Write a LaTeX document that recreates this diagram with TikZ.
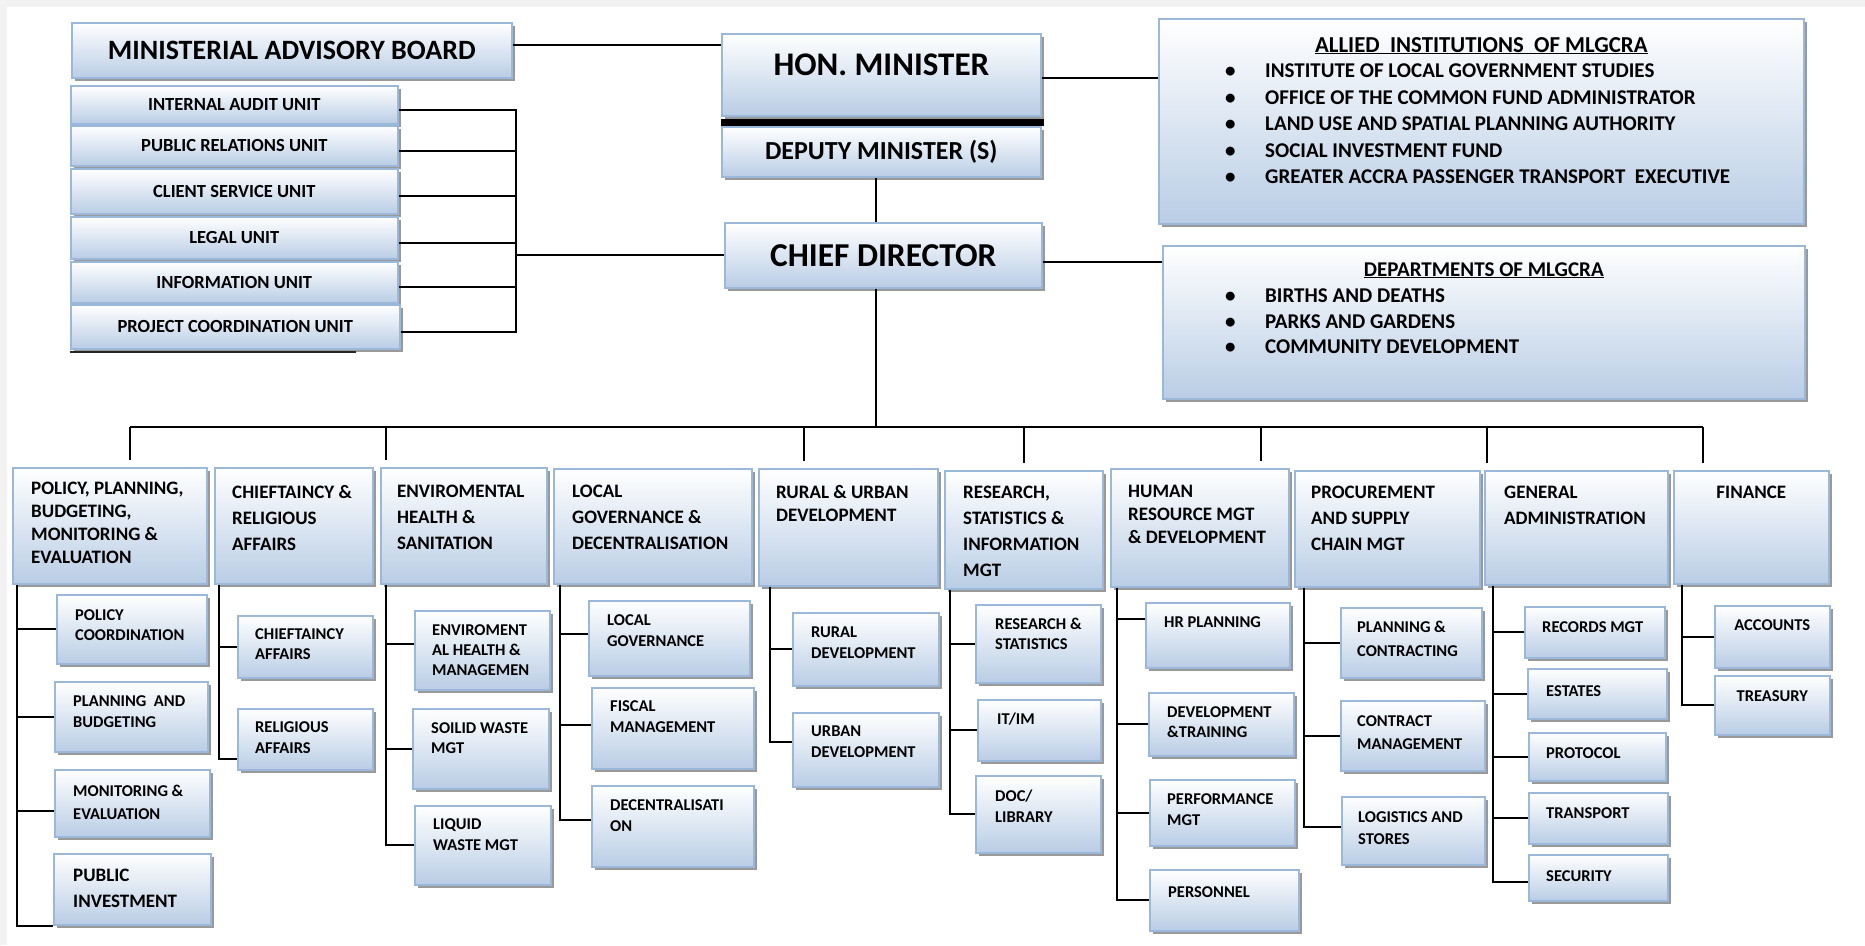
\documentclass[tikz,border=0pt]{standalone}
\usepackage{fontspec}
\setmainfont{Carlito}
\usetikzlibrary{shadows}
\definecolor{boxedge}{RGB}{155,183,217}
\definecolor{boxfill}{RGB}{185,205,229}
\definecolor{pagegray}{RGB}{242,242,242}
\newcommand{\itembul}{\makebox[40pt][l]{\textbullet}}
\tikzset{
  orgbox/.style={draw=boxedge, line width=1.6pt, top color=white, bottom color=boxfill,
    drop shadow={shadow xshift=3pt, shadow yshift=-3pt, fill=black!40, opacity=1},
    anchor=north west, inner sep=0pt, font=\bfseries\fontsize{18.5}{22}\selectfont},
  headtxt/.style={anchor=north west, inner sep=0pt, align=left, font=\bfseries\fontsize{19}{#1}\selectfont},
  headtxt/.default=23,
  subtxt/.style={anchor=north west, inner sep=0pt, align=left, font=\bfseries\fontsize{16.5}{#1}\selectfont},
  subtxt/.default=21,
  link/.style={line width=1.8pt},
}
\begin{document}
\begin{tikzpicture}[x=1pt, y=-1pt]
  \useasboundingbox (0,0) rectangle (1865,945);
  \fill[pagegray] (0,0) rectangle (1865,945);
  \fill[white] (7,7) rectangle (1865,945);

  % minister and advisory units
  \node[orgbox, minimum width=440pt, minimum height=55pt, font=\bfseries\fontsize{28}{32}\selectfont] (mab) at (71,22) {MINISTERIAL ADVISORY BOARD};
  \node[orgbox, minimum width=327pt, minimum height=38pt] (iau) at (70,85) {INTERNAL AUDIT UNIT};
  \node[orgbox, minimum width=327pt, minimum height=40pt] (pru) at (70,125) {PUBLIC RELATIONS UNIT};
  \node[orgbox, minimum width=327pt, minimum height=45pt] (csu) at (70,168) {CLIENT SERVICE UNIT};
  \node[orgbox, minimum width=327pt, minimum height=42pt] (lgu) at (70,216) {LEGAL UNIT};
  \node[orgbox, minimum width=327pt, minimum height=41pt] (inf) at (70,261) {INFORMATION UNIT};
  \node[orgbox, minimum width=329pt, minimum height=44pt] (pcu) at (70,304) {PROJECT COORDINATION UNIT};
  \draw[line width=2pt, black!85] ([yshift=-2pt]pcu.south west) -- ++(286,0);

  \node[orgbox, minimum width=319pt, minimum height=82pt, text depth=20pt, font=\bfseries\fontsize{33}{38}\selectfont] (hom) at (721,33) {HON. MINISTER};
  \fill ([yshift=-2pt]hom.south west) rectangle (1044,126);
  \node[orgbox, minimum width=319pt, minimum height=50pt, font=\bfseries\fontsize{26}{30}\selectfont] (dpm) at (721,126) {DEPUTY MINISTER (S)};
  \node[orgbox, minimum width=317pt, minimum height=65pt, font=\bfseries\fontsize{33.4}{38}\selectfont] (chd) at (724,222) {CHIEF DIRECTOR};

  % allied institutions and departments
  \node[orgbox, minimum width=645pt, minimum height=205pt] (ali) at (1158,18) {};
  \node[anchor=base, inner sep=0pt, font=\bfseries\fontsize{22.8}{26}\selectfont] (alit) at ([yshift=-34pt]ali.north) {\underline{ALLIED\ \ INSTITUTIONS\ \ OF MLGCRA}};
  \node[anchor=north west, inner sep=0pt, align=left, font=\bfseries\fontsize{21}{26.5}\selectfont] (alil) at ([shift={(67,46)}]ali.north west)
    {\itembul INSTITUTE OF LOCAL GOVERNMENT STUDIES\\
     \itembul OFFICE OF THE COMMON FUND ADMINISTRATOR\\
     \itembul LAND USE AND SPATIAL PLANNING AUTHORITY\\
     \itembul SOCIAL INVESTMENT FUND\\
     \itembul GREATER ACCRA PASSENGER TRANSPORT\ \ EXECUTIVE};
  \node[orgbox, minimum width=642pt, minimum height=153pt] (dpt) at (1162,245) {};
  \node[anchor=base, inner sep=0pt, font=\bfseries\fontsize{21}{26}\selectfont] (dptt) at ([yshift=-31pt]dpt.north) {\underline{DEPARTMENTS OF MLGCRA}};
  \node[anchor=north west, inner sep=0pt, align=left, font=\bfseries\fontsize{21}{25.5}\selectfont] (dptl) at ([shift={(63,44)}]dpt.north west)
    {\itembul BIRTHS AND DEATHS\\
     \itembul PARKS AND GARDENS\\
     \itembul COMMUNITY DEVELOPMENT};

  % top links
  \draw[link] ([yshift=5pt]mab.east) coordinate (mabe) -- (mabe -| hom.west);
  \coordinate (brk) at ([xshift=-208pt]chd.west);
  \foreach \u in {iau,pru,csu,lgu,inf,pcu}
    \draw[link] ([yshift=-5pt]\u.east) -| (brk);
  \draw[link] (brk) -- (chd.west);
  \draw[link] ([yshift=-3pt]hom.east) coordinate (home) -- (home -| ali.west);
  \draw[link] ([yshift=-7pt]chd.east) coordinate (chde) -- (chde -| dpt.west);
  \draw[link] ([xshift=-5pt]dpm.south) coordinate (dpms) -- (dpms |- chd.north);

  % directorates
  \node[orgbox, minimum width=194pt, minimum height=116pt] (pol) at (12,467) {};
  \node[headtxt] (polt) at ([shift={(19,15)}]pol.north west) {POLICY, PLANNING,\\BUDGETING,\\MONITORING \&\\EVALUATION};
  \node[orgbox, minimum width=158pt, minimum height=116pt] (chf) at (214,467) {};
  \node[headtxt=26] (chft) at ([shift={(18,18)}]chf.north west) {CHIEFTAINCY \&\\RELIGIOUS\\AFFAIRS};
  \node[orgbox, minimum width=166pt, minimum height=116pt] (env) at (380,467) {};
  \node[headtxt=26] (envt) at ([shift={(17,18)}]env.north west) {ENVIROMENTAL\\HEALTH \&\\SANITATION};
  \node[orgbox, minimum width=198pt, minimum height=115pt] (loc) at (553,468) {};
  \node[headtxt=26] (loct) at ([shift={(19,17)}]loc.north west) {LOCAL\\GOVERNANCE \&\\DECENTRALISATION};
  \node[orgbox, minimum width=179pt, minimum height=117pt] (rur) at (758,468) {};
  \node[headtxt] (rurt) at ([shift={(18,17)}]rur.north west) {RURAL \& URBAN\\DEVELOPMENT};
  \node[orgbox, minimum width=158pt, minimum height=118pt] (res) at (944,470) {};
  \node[headtxt=26] (rest) at ([shift={(19,16)}]res.north west) {RESEARCH,\\STATISTICS \&\\INFORMATION\\MGT};
  \node[orgbox, minimum width=178pt, minimum height=118pt] (hrm) at (1110,468) {};
  \node[headtxt] (hrmt) at ([shift={(18,17)}]hrm.north west) {HUMAN\\RESOURCE MGT\\\& DEVELOPMENT};
  \node[orgbox, minimum width=185pt, minimum height=116pt] (prc) at (1294,470) {};
  \node[headtxt=26] (prct) at ([shift={(17,16)}]prc.north west) {PROCUREMENT\\AND SUPPLY\\CHAIN MGT};
  \node[orgbox, minimum width=183pt, minimum height=114pt] (gad) at (1484,470) {};
  \node[headtxt=26] (gadt) at ([shift={(20,16)}]gad.north west) {GENERAL\\ADMINISTRATION};
  \node[orgbox, minimum width=155pt, minimum height=113pt] (fin) at (1673,470) {};
  \node[headtxt, anchor=north] (fint) at ([yshift=-16pt]fin.north) {FINANCE};

  % units under directorates
  \node[orgbox, minimum width=150pt, minimum height=69pt] (pco) at (56,594) {};
  \node[subtxt=20] (pcot) at ([shift={(19,15)}]pco.north west) {POLICY\\COORDINATION};
  \node[orgbox, minimum width=153pt, minimum height=70pt] (pbu) at (54,681) {};
  \node[subtxt] (pbut) at ([shift={(19,14)}]pbu.north west) {PLANNING\ \ AND\\BUDGETING};
  \node[orgbox, minimum width=155pt, minimum height=67pt] (mev) at (54,769) {};
  \node[subtxt=23] (mevt) at ([shift={(19,16)}]mev.north west) {MONITORING \&\\EVALUATION};
  \node[orgbox, minimum width=157pt, minimum height=71pt] (pin) at (53,853) {};
  \node[headtxt=26] (pint) at ([shift={(20,16)}]pin.north west) {PUBLIC\\INVESTMENT};

  \node[orgbox, minimum width=135pt, minimum height=62pt] (cha) at (237,615) {};
  \node[subtxt=20] (chat) at ([shift={(18,13)}]cha.north west) {CHIEFTAINCY\\AFFAIRS};
  \node[orgbox, minimum width=135pt, minimum height=61pt] (rea) at (237,708) {};
  \node[subtxt=21] (reat) at ([shift={(18,13)}]rea.north west) {RELIGIOUS\\AFFAIRS};

  \node[orgbox, minimum width=135pt, minimum height=79pt] (ehm) at (414,610) {};
  \node[subtxt=20] (ehmt) at ([shift={(18,14)}]ehm.north west) {ENVIROMENT\\AL HEALTH \&\\MANAGEMEN};
  \node[orgbox, minimum width=136pt, minimum height=80pt] (swm) at (412,708) {};
  \node[subtxt=20] (swmt) at ([shift={(19,14)}]swm.north west) {SOILID WASTE\\MGT};
  \node[orgbox, minimum width=136pt, minimum height=79pt] (lwm) at (414,805) {};
  \node[subtxt] (lwmt) at ([shift={(19,13)}]lwm.north west) {LIQUID\\WASTE MGT};

  \node[orgbox, minimum width=161pt, minimum height=75pt] (lgv) at (588,600) {};
  \node[subtxt] (lgvt) at ([shift={(19,14)}]lgv.north west) {LOCAL\\GOVERNANCE};
  \node[orgbox, minimum width=162pt, minimum height=81pt] (fmg) at (591,687) {};
  \node[subtxt] (fmgt) at ([shift={(19,13)}]fmg.north west) {FISCAL\\MANAGEMENT};
  \node[orgbox, minimum width=162pt, minimum height=81pt] (dcn) at (591,785) {};
  \node[subtxt] (dcnt) at ([shift={(19,14)}]dcn.north west) {DECENTRALISATI\\ON};

  \node[orgbox, minimum width=146pt, minimum height=73pt] (rdv) at (792,612) {};
  \node[subtxt] (rdvt) at ([shift={(19,15)}]rdv.north west) {RURAL\\DEVELOPMENT};
  \node[orgbox, minimum width=146pt, minimum height=74pt] (udv) at (792,712) {};
  \node[subtxt] (udvt) at ([shift={(19,14)}]udv.north west) {URBAN\\DEVELOPMENT};

  \node[orgbox, minimum width=125pt, minimum height=78pt] (rst) at (975,604) {};
  \node[subtxt=20] (rstt) at ([shift={(20,14)}]rst.north west) {RESEARCH \&\\STATISTICS};
  \node[orgbox, minimum width=123pt, minimum height=61pt] (itm) at (977,699) {};
  \node[subtxt] (itmt) at ([shift={(20,14)}]itm.north west) {IT/IM};
  \node[orgbox, minimum width=125pt, minimum height=77pt] (lib) at (975,775) {};
  \node[subtxt] (libt) at ([shift={(20,15)}]lib.north west) {DOC/\\LIBRARY};

  \node[orgbox, minimum width=144pt, minimum height=65pt] (hrp) at (1145,602) {};
  \node[subtxt] (hrpt) at ([shift={(19,14)}]hrp.north west) {HR PLANNING};
  \node[orgbox, minimum width=145pt, minimum height=63pt] (dtr) at (1148,692) {};
  \node[subtxt=20] (dtrt) at ([shift={(19,14)}]dtr.north west) {DEVELOPMENT\\\&TRAINING};
  \node[orgbox, minimum width=145pt, minimum height=66pt] (pfm) at (1149,779) {};
  \node[subtxt] (pfmt) at ([shift={(18,14)}]pfm.north west) {PERFORMANCE\\MGT};
  \node[orgbox, minimum width=149pt, minimum height=61pt] (psn) at (1149,869) {};
  \node[subtxt] (psnt) at ([shift={(19,17)}]psn.north west) {PERSONNEL};

  \node[orgbox, minimum width=141pt, minimum height=70pt] (pct) at (1340,607) {};
  \node[subtxt=24] (pctt) at ([shift={(17,14)}]pct.north west) {PLANNING \&\\CONTRACTING};
  \node[orgbox, minimum width=144pt, minimum height=70pt] (cmg) at (1340,700) {};
  \node[subtxt=23] (cmgt) at ([shift={(17,15)}]cmg.north west) {CONTRACT\\MANAGEMENT};
  \node[orgbox, minimum width=143pt, minimum height=68pt] (lst) at (1341,796) {};
  \node[subtxt=22] (lstt) at ([shift={(17,15)}]lst.north west) {LOGISTICS AND\\STORES};

  \node[orgbox, minimum width=140pt, minimum height=51pt] (rec) at (1524,606) {};
  \node[subtxt] (rect) at ([shift={(18,15)}]rec.north west) {RECORDS MGT};
  \node[orgbox, minimum width=139pt, minimum height=50pt] (est) at (1527,668) {};
  \node[subtxt] (estt) at ([shift={(19,17)}]est.north west) {ESTATES};
  \node[orgbox, minimum width=137pt, minimum height=48pt] (pro) at (1528,732) {};
  \node[subtxt] (prot) at ([shift={(18,15)}]pro.north west) {PROTOCOL};
  \node[orgbox, minimum width=139pt, minimum height=51pt] (trn) at (1528,792) {};
  \node[subtxt] (trnt) at ([shift={(18,15)}]trn.north west) {TRANSPORT};
  \node[orgbox, minimum width=139pt, minimum height=46pt] (sec) at (1528,854) {};
  \node[subtxt] (sect) at ([shift={(18,16)}]sec.north west) {SECURITY};

  \node[orgbox, minimum width=115pt, minimum height=62pt] (acc) at (1714,605) {};
  \node[subtxt, anchor=north] (acct) at ([yshift=-14pt]acc.north) {ACCOUNTS};
  \node[orgbox, minimum width=115pt, minimum height=59pt] (trs) at (1714,675) {};
  \node[subtxt, anchor=north] (trst) at ([yshift=-15pt]trs.north) {TREASURY};

  % chief director to directorates
  \coordinate (busl) at (130,427);
  \coordinate (busr) at (1703,427);
  \draw[link] (busl) -- (busr);
  \draw[link] ([xshift=-7pt]chd.south) coordinate (chds) -- (chds |- busl);
  \foreach \b/\dx in {pol/118, env/6, rur/46, res/80, hrm/151, gad/3, fin/30}
    \draw[link] ([shift={(\dx,-7)}]\b.north west) coordinate (drop) -- (drop |- busl);

  % branch lines
  \draw[link] ([xshift=5pt]pol.south west) coordinate (polv) |- (pin.south west);
  \foreach \s in {pco,pbu} \draw[link] (\s.west) -| (polv);
  \draw[link] ([yshift=-8pt]mev.west) -| (polv);

  \draw[link] ([xshift=5pt]chf.south west) coordinate (chfv) |- ([yshift=-20pt]rea.west);
  \draw[link] (cha.west) -| (chfv);

  \draw[link] ([xshift=6pt]env.south west) coordinate (envv) |- (lwm.west);
  \draw[link] ([yshift=6pt]ehm.west) -| (envv);
  \draw[link] (swm.west) -| (envv);

  \draw[link] ([xshift=7pt]loc.south west) coordinate (locv) |- ([yshift=6pt]dcn.west);
  \draw[link] ([yshift=4pt]lgv.west) -| (locv);
  \draw[link] ([yshift=3pt]fmg.west) -| (locv);

  \draw[link] ([xshift=12pt]rur.south west) coordinate (rurv) |- ([yshift=8pt]udv.west);
  \draw[link] (rdv.west) -| (rurv);

  \draw[link] ([xshift=6pt]res.south west) coordinate (resv) |- (lib.west);
  \foreach \s in {rst,itm} \draw[link] (\s.west) -| (resv);

  \draw[link] ([xshift=7pt]hrm.south west) coordinate (hrmv) |- (psn.west);
  \draw[link] ([yshift=16pt]hrp.west) -| (hrmv);
  \foreach \s in {dtr,pfm} \draw[link] (\s.west) -| (hrmv);

  \draw[link] ([xshift=10pt]prc.south west) coordinate (prcv) |- ([yshift=4pt]lst.west);
  \foreach \s in {pct,cmg} \draw[link] (\s.west) -| (prcv);

  \draw[link] ([xshift=9pt]gad.south west) coordinate (gadv) |- ([yshift=-4pt]sec.west);
  \foreach \s in {rec,est,pro,trn} \draw[link] (\s.west) -| (gadv);

  \draw[link] ([xshift=9pt]fin.south west) coordinate (finv) |- (trs.west);
  \draw[link] (acc.west) -| (finv);
\end{tikzpicture}
\end{document}
